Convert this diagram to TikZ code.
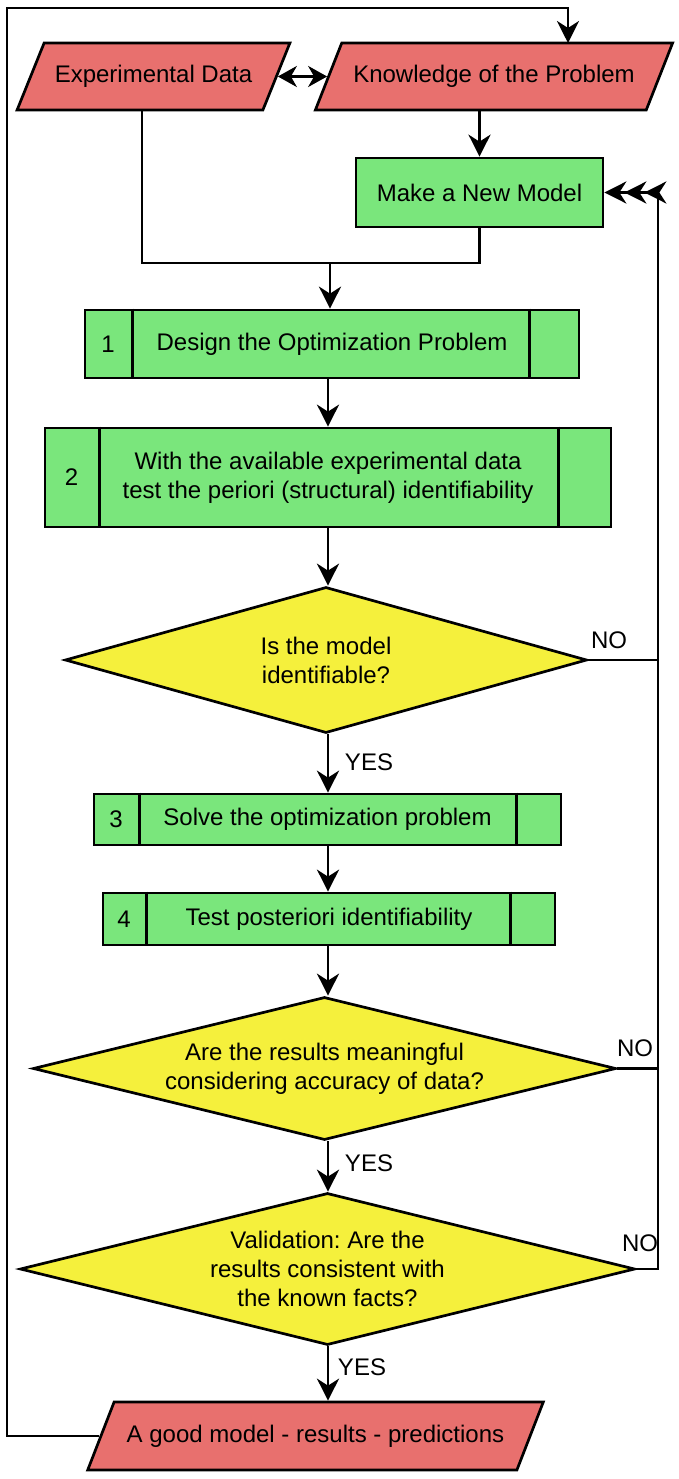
\documentclass[tikz,border=0pt]{standalone}
\usepackage{fontspec}
\setmainfont{Liberation Sans}
\frenchspacing
\usetikzlibrary{shapes.geometric,arrows.meta,calc}
\definecolor{redfill}{RGB}{232,112,110}
\definecolor{greenfill}{RGB}{122,230,124}
\definecolor{yellowfill}{RGB}{245,240,60}
\begin{document}
\begin{tikzpicture}[x=1pt,y=-1pt,
  every node/.style={font=\fontsize{24}{29}\selectfont},
  line/.style={line width=2.7pt},
  arr/.style={line, -{Stealth[length=22pt,width=22pt,inset=7pt]}},
  dbl/.style={line, {Stealth[length=19pt,width=21pt,inset=6pt]}-{Stealth[length=19pt,width=21pt,inset=6pt]}},
  io/.style={trapezium, trapezium left angle=70, trapezium right angle=110,
    trapezium stretches=true, draw, line width=2.7pt, fill=redfill,
    text height=18pt, text depth=6pt, inner xsep=0pt},
  proc/.style={rectangle, draw, line width=2.7pt, fill=greenfill, inner sep=0pt, align=center},
  decision/.style={diamond, draw, line width=2.7pt, fill=yellowfill, inner sep=0pt},
  qtext/.style={align=center, inner sep=0pt},
]
\useasboundingbox (0,0) rectangle (678,1479);
\fill[white] (0,0) rectangle (678,1479);

% input / output nodes
\node[io, inner ysep=21.5pt, minimum width=273pt] (exp) at (153.5,76.5) {Experimental Data};
\node[io, inner ysep=21.5pt, minimum width=358pt] (kn) at (494,76.5) {Knowledge of the Problem};
\node[io, inner ysep=22pt, minimum width=457pt] (good) at (315.5,1436) {A good model - results - predictions};

% make a new model
\node[proc, minimum width=247pt, minimum height=69pt] (mnm) at (479.5,192.5) {Make a New Model};

% step boxes
\node[proc, minimum width=494pt, minimum height=68pt] (b1) at (332,344) {Design the Optimization Problem};
\draw[line] ([xshift=49pt]b1.north west) -- ([xshift=49pt]b1.south west);
\draw[line] ([xshift=-51pt]b1.north east) -- ([xshift=-51pt]b1.south east);
\node (n1) at ($(b1.west)+(24.5,0)$) {1};

\node[proc, minimum width=566pt, minimum height=99pt] (b2) at (328,477.5) {With the available experimental data\\test the periori (structural) identifiability};
\draw[line] ([xshift=56pt]b2.north west) -- ([xshift=56pt]b2.south west);
\draw[line] ([xshift=-54pt]b2.north east) -- ([xshift=-54pt]b2.south east);
\node (n2) at ($(b2.west)+(28,0)$) {2};

\node[proc, minimum width=467pt, minimum height=51pt] (b3) at (327.5,819.5) {Solve the optimization problem};
\draw[line] ([xshift=47pt]b3.north west) -- ([xshift=47pt]b3.south west);
\draw[line] ([xshift=-46pt]b3.north east) -- ([xshift=-46pt]b3.south east);
\node (n3) at ($(b3.west)+(23.5,0)$) {3};

\node[proc, minimum width=452pt, minimum height=52pt] (b4) at (329,919) {Test posteriori identifiability};
\draw[line] ([xshift=45pt]b4.north west) -- ([xshift=45pt]b4.south west);
\draw[line] ([xshift=-46pt]b4.north east) -- ([xshift=-46pt]b4.south east);
\node (n4) at ($(b4.west)+(22.5,0)$) {4};

% decisions
\node[decision, minimum width=522pt, minimum height=146pt] (d1) at (326,660) {};
\node[qtext] (t1) at (d1.center) {Is the model\\identifiable?};
\node[decision, minimum width=583pt, minimum height=143pt] (d2) at (324.5,1068.5) {};
\node[qtext] (t2) at (d2.center) {Are the results meaningful\\considering accuracy of data?};
\node[decision, minimum width=615pt, minimum height=152pt] (d3) at (327.5,1269) {};
\node[qtext] (t3) at (d3.center) {Validation: Are the\\results consistent with\\the known facts?};

% labels
\node (no1) at (609,640) {NO};
\node (no2) at (635,1048) {NO};
\node (no3) at (640,1243) {NO};
\node (yes1) at (369,762) {YES};
\node (yes2) at (369,1163) {YES};
\node (yes3) at (362,1367) {YES};

% coordinates for routing
\coordinate (col) at (328,0);
\coordinate (ex) at (142,263);
\coordinate (mg) at (330,263);
\coordinate (rx) at (658,192.5);
\coordinate (tl) at (7,8);
\coordinate (kin) at (568,43);

% connectors
\draw[dbl] (exp.east) -- (kn.west);
\draw[arr] (kn.south -| mnm.north) -- (mnm.north);
\draw[line] (ex |- exp.south) -- (ex) -- (ex -| mnm.south) -- (mnm.south);
\draw[arr] (mg) -- (mg |- b1.north);
\draw[arr] (col |- b1.south) -- (col |- b2.north);
\draw[arr] (col |- b2.south) -- (col |- d1.north);
\draw[arr] (col |- d1.south) -- (col |- b3.north);
\draw[arr] (col |- b3.south) -- (col |- b4.north);
\draw[arr] (col |- b4.south) -- (col |- d2.north);
\draw[arr] (col |- d2.south) -- (col |- d3.north);
\draw[arr] (col |- d3.south) -- (col |- good.north);

% NO feedback
\draw[arr] (d1.east) -| (rx) -- (mnm.east);
\draw[arr, shorten >=20pt] (d2.east) -| (rx) -- (mnm.east);
\draw[arr, shorten >=40pt] (d3.east) -| (rx) -- (mnm.east);

% loop back to knowledge
\draw[arr] (good.west) -| (tl) -| (kin);
\end{tikzpicture}
\end{document}
